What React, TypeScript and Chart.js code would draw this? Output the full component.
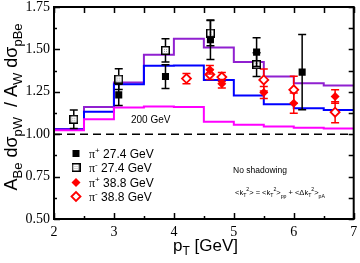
import React, { useEffect, useRef } from 'react';
import { Chart, registerables } from 'chart.js';
Chart.register(...registerables);

// ---- data ----
const binEdges = [2, 2.5, 3, 3.5, 4, 4.5, 5, 5.5, 6, 6.5, 7];
const purpleVals = [1.03, 1.16, 1.305, 1.468, 1.563, 1.511, 1.425, 1.34, 1.301, 1.287];
const blueVals = [1.028, 1.133, 1.295, 1.403, 1.405, 1.319, 1.228, 1.177, 1.153, 1.142];
const magentaVals = [1.024, 1.088, 1.157, 1.163, 1.16, 1.074, 1.055, 1.045, 1.038, 1.034];

const pip27X = [3.08, 3.86, 4.61, 5.38, 6.14];
const pip27Y = [1.232, 1.34, 1.557, 1.484, 1.366];
const pip27E = [0.063, 0.07, 0.116, 0.085, 0.222];

const pim27X = [2.33, 3.08, 3.86, 4.61, 5.38];
const pim27Y = [1.088, 1.325, 1.494, 1.596, 1.41];
const pim27E = [0.054, 0.061, 0.069, 0.075, 0.07];

const pip38X = [4.6, 4.8, 5.5, 6.0, 6.69];
const pip38Y = [1.38, 1.297, 1.246, 1.183, 1.222];
const pip38E = [0.025, 0.025, 0.035, 0.06, 0.04];

const pim38X = [4.21, 4.6, 4.8, 5.5, 6.0, 6.69];
const pim38Y = [1.328, 1.352, 1.337, 1.32, 1.262, 1.13];
const pim38E = [0.03, 0.03, 0.027, 0.065, 0.08, 0.062];

const yTicks = [0.5, 0.75, 1.0, 1.25, 1.5, 1.75];
const xTicks = [2, 3, 4, 5, 6, 7];
const refLine = [2, 7];

const legendLabels = ['27.4 GeV', '27.4 GeV', '38.8 GeV', '38.8 GeV'];
const legendCharge = ['+', '-', '+', '-'];

const SANS = '"Liberation Sans", Arial, sans-serif';
const SERIF = '"Liberation Serif", "Times New Roman", serif';

const PURPLE = '#9020d0';
const BLUE = '#0000ff';
const MAGENTA = '#ff00ff';
const RED = '#ff0000';

type Part = { t: string; size: number; dy?: number; family?: string };

function partsWidth(ctx: CanvasRenderingContext2D, parts: Part[]) {
  let w = 0;
  for (const p of parts) {
    ctx.font = `${p.size}px ${p.family || SANS}`;
    w += ctx.measureText(p.t).width;
  }
  return w;
}
function drawParts(ctx: CanvasRenderingContext2D, x: number, y: number, parts: Part[]) {
  let cx = x;
  ctx.textBaseline = 'alphabetic';
  ctx.textAlign = 'left';
  for (const p of parts) {
    ctx.font = `${p.size}px ${p.family || SANS}`;
    ctx.fillText(p.t, cx, y + (p.dy || 0));
    cx += ctx.measureText(p.t).width;
  }
}

function makeOpenSquare(): HTMLCanvasElement {
  const c = document.createElement('canvas');
  c.width = 9;
  c.height = 9;
  const g = c.getContext('2d')!;
  g.fillStyle = '#fff';
  g.fillRect(0, 0, 9, 9);
  g.strokeStyle = '#000';
  g.lineWidth = 1.5;
  g.strokeRect(0.75, 0.75, 7.5, 7.5);
  g.fillStyle = '#aaa';
  g.fillRect(3, 3, 1, 1);
  g.fillRect(5, 3, 1, 1);
  g.fillRect(3, 5, 1, 1);
  g.fillRect(5, 5, 1, 1);
  return c;
}

const toPts = (xs: number[], ys: number[]) => xs.map((x, i) => ({ x, y: ys[i] }));
const histPts = (vals: number[]) =>
  binEdges.map((x, i) => ({ x, y: vals[Math.min(i, vals.length - 1)] }));

const zeroPad = (s: any) => {
  s.paddingLeft = 0;
  s.paddingRight = 0;
  s.paddingTop = 0;
  s.paddingBottom = 0;
};

export default function App() {
  const ref = useRef<HTMLCanvasElement>(null);
  useEffect(() => {
    const canvas = ref.current!;
    const openSq = makeOpenSquare();

    const overlay = {
      id: 'overlay',
      beforeDatasetDraw(chart: any, args: any) {
        const ds = chart.data.datasets[args.index];
        if (!ds.yErr) return;
        const ctx = chart.ctx;
        const xs = chart.scales.x;
        const ys = chart.scales.y;
        ctx.save();
        ctx.strokeStyle = ds.errColor;
        ctx.lineWidth = 1.5;
        ds.data.forEach((p: any, i: number) => {
          const px = xs.getPixelForValue(p.x);
          const top = ys.getPixelForValue(p.y + ds.yErr[i]);
          const bot = ys.getPixelForValue(p.y - ds.yErr[i]);
          ctx.beginPath();
          ctx.moveTo(px, top);
          ctx.lineTo(px, bot);
          ctx.moveTo(px - 4, top);
          ctx.lineTo(px + 4, top);
          ctx.moveTo(px - 4, bot);
          ctx.lineTo(px + 4, bot);
          ctx.stroke();
        });
        ctx.restore();
      },
      afterDraw(chart: any) {
        const ctx: CanvasRenderingContext2D = chart.ctx;
        const a = chart.chartArea;
        const xs = chart.scales.x;
        const ys = chart.scales.y;
        ctx.save();
        ctx.strokeStyle = '#000';
        ctx.fillStyle = '#000';
        ctx.lineWidth = 1.5;
        // ticks
        ctx.beginPath();
        for (let v = 2; v <= 7.0001; v += 0.5) {
          const px = Math.round(xs.getPixelForValue(v)) + 0.5;
          const major = Math.abs(v - Math.round(v)) < 1e-6;
          const len = major ? 6 : 3;
          ctx.moveTo(px, a.bottom);
          ctx.lineTo(px, a.bottom - len);
          ctx.moveTo(px, a.top);
          ctx.lineTo(px, a.top + 6);
        }
        for (let v = 0.5; v <= 1.7501; v += 0.125) {
          const py = Math.round(ys.getPixelForValue(v)) + 0.5;
          const major = Math.abs(v / 0.25 - Math.round(v / 0.25)) < 1e-6;
          const len = major ? 6 : 3;
          ctx.moveTo(a.left, py);
          ctx.lineTo(a.left + len, py);
          ctx.moveTo(a.right, py);
          ctx.lineTo(a.right - 5, py);
        }
        ctx.stroke();
        // frame
        ctx.lineWidth = 2;
        ctx.strokeRect(a.left, a.top, a.right - a.left, a.bottom - a.top);

        // y title
        const yParts: Part[] = [
          { t: 'A', size: 18 },
          { t: 'Be', size: 13, dy: 5 },
          { t: ' d\u03c3', size: 18 },
          { t: 'pW', size: 13, dy: 5 },
          { t: '  / ', size: 18 },
          { t: 'A', size: 18 },
          { t: 'W', size: 13, dy: 5 },
          { t: ' d\u03c3', size: 18 },
          { t: 'pBe', size: 13, dy: 5 },
        ];
        ctx.save();
        ctx.translate(17, 107);
        ctx.rotate(-Math.PI / 2);
        const yw = partsWidth(ctx, yParts);
        drawParts(ctx, -yw / 2, 0, yParts);
        ctx.restore();

        // x title
        drawParts(ctx, 173, 251, [
          { t: 'p', size: 17 },
          { t: 'T', size: 12, dy: 4 },
          { t: ' [GeV]', size: 17 },
        ]);

        // legend
        const rows = [153.5, 167.5, 182.5, 196.5];
        const mx = 76;
        rows.forEach((ry, i) => {
          if (i === 0) {
            ctx.fillStyle = '#000';
            ctx.fillRect(mx - 3.5, ry - 3.5, 7, 7);
          } else if (i === 1) {
            ctx.drawImage(openSq, mx - 4.5, ry - 4.5);
          } else {
            ctx.beginPath();
            ctx.moveTo(mx - 4.5, ry);
            ctx.lineTo(mx, ry - 4.5);
            ctx.lineTo(mx + 4.5, ry);
            ctx.lineTo(mx, ry + 4.5);
            ctx.closePath();
            if (i === 2) {
              ctx.fillStyle = RED;
              ctx.fill();
            } else {
              ctx.fillStyle = '#fff';
              ctx.fill();
              ctx.strokeStyle = RED;
              ctx.lineWidth = 1.8;
              ctx.stroke();
            }
          }
          ctx.fillStyle = '#000';
          drawParts(ctx, 89, ry + 4.5, [
            { t: '\u03c0', size: 12, family: SERIF },
            { t: legendCharge[i], size: 8, dy: -5 },
            { t: ' ' + legendLabels[i], size: 12 },
          ]);
        });

        // annotations
        ctx.fillStyle = '#000';
        drawParts(ctx, 131, 123, [{ t: '200 GeV', size: 10 }]);
        drawParts(ctx, 233, 173, [{ t: 'No shadowing', size: 8.5 }]);
        const s = 7.5;
        const ss = 5.2;
        drawParts(ctx, 235, 195, [
          { t: '<k', size: s },
          { t: 'T', size: ss, dy: 2 },
          { t: '2', size: ss, dy: -4 },
          { t: '> = <k', size: s },
          { t: 'T', size: ss, dy: 2 },
          { t: '2', size: ss, dy: -4 },
          { t: '>', size: s },
          { t: 'pp', size: ss, dy: 2.5 },
          { t: ' + <\u0394k', size: s },
          { t: 'T', size: ss, dy: 2 },
          { t: '2', size: ss, dy: -4 },
          { t: '>', size: s },
          { t: 'pA', size: ss, dy: 2.5 },
        ]);
        ctx.restore();
      },
    };

    const hist = (vals: number[], color: string) => ({
      type: 'line',
      data: histPts(vals),
      borderColor: color,
      borderWidth: 2,
      pointRadius: 0,
      stepped: true,
      fill: false,
      order: 10,
    });

    const chart = new Chart(canvas, {
      type: 'line',
      data: {
        datasets: [
          {
            data: refLine.map((x) => ({ x, y: 1 })),
            borderColor: '#000',
            borderWidth: 1.5,
            borderDash: [8, 5],
            pointRadius: 0,
            order: 20,
          } as any,
          hist(magentaVals, MAGENTA),
          hist(blueVals, BLUE),
          hist(purpleVals, PURPLE),
          {
            data: toPts(pim27X, pim27Y),
            showLine: false,
            pointStyle: openSq,
            pointRadius: 4.5,
            yErr: pim27E,
            errColor: '#000',
            order: 2,
          },
          {
            data: toPts(pip27X, pip27Y),
            showLine: false,
            pointStyle: 'rect',
            pointRadius: 5,
            backgroundColor: '#000',
            borderColor: '#000',
            borderWidth: 0,
            yErr: pip27E,
            errColor: '#000',
            order: 1,
          },
          {
            data: toPts(pim38X, pim38Y),
            showLine: false,
            pointStyle: 'rectRot',
            pointRadius: 4.5,
            backgroundColor: '#fff',
            borderColor: RED,
            borderWidth: 1.8,
            yErr: pim38E,
            errColor: RED,
            order: 4,
          },
          {
            data: toPts(pip38X, pip38Y),
            showLine: false,
            pointStyle: 'rectRot',
            pointRadius: 4.5,
            backgroundColor: RED,
            borderColor: RED,
            borderWidth: 0,
            yErr: pip38E,
            errColor: RED,
            order: 3,
          },
        ] as any,
      },
      options: {
        responsive: false,
        animation: false,
        devicePixelRatio: 1,
        layout: { padding: { top: 7, right: 4, left: 0, bottom: 0 } },
        plugins: { legend: { display: false }, tooltip: { enabled: false } },
        scales: {
          x: {
            type: 'linear',
            min: 2,
            max: 7,
            afterFit: (s: any) => {
              s.height = 44;
              zeroPad(s);
            },
            afterBuildTicks: (s: any) => {
              s.ticks = xTicks.map((v) => ({ value: v }));
            },
            grid: { display: false, drawTicks: false },
            border: { display: false },
            ticks: {
              color: '#000',
              padding: 5,
              font: { family: SERIF, size: 14 },
              callback: (v: any) => String(v),
              maxRotation: 0,
            },
          },
          y: {
            type: 'linear',
            min: 0.5,
            max: 1.75,
            afterFit: (s: any) => {
              s.width = 54;
              zeroPad(s);
            },
            afterBuildTicks: (s: any) => {
              s.ticks = yTicks.map((v) => ({ value: v }));
            },
            grid: { display: false, drawTicks: false },
            border: { display: false },
            ticks: {
              color: '#000',
              padding: 4,
              font: { family: SERIF, size: 14 },
              callback: (v: any) => Number(v).toFixed(2),
            },
          },
        },
      } as any,
      plugins: [overlay],
    });
    return () => chart.destroy();
  }, []);

  return (
    <div style={{ position: 'fixed', left: 0, top: 0, width: 360, height: 263, background: '#fff' }}>
      <canvas ref={ref} width={360} height={263} style={{ display: 'block' }} />
    </div>
  );
}
